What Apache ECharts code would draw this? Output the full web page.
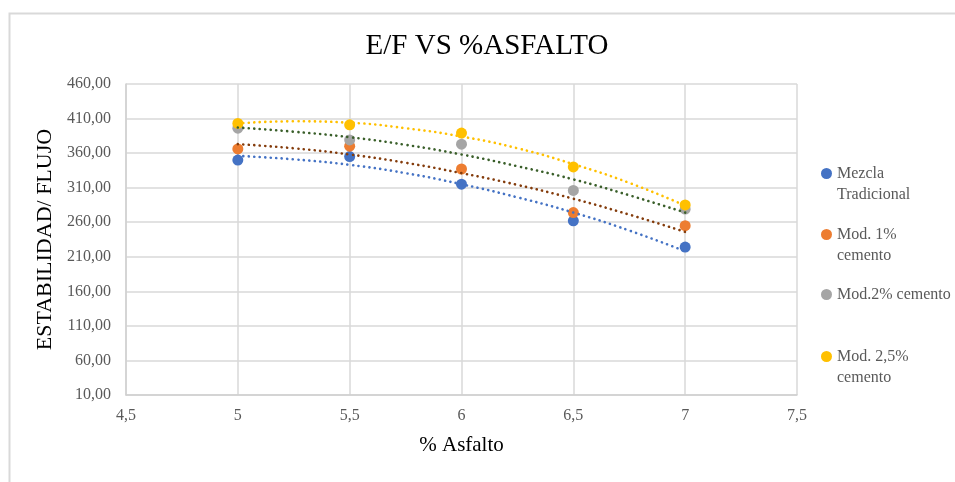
<!DOCTYPE html>
<html>
<head>
<meta charset="utf-8">
<script src="https://cdn.jsdelivr.net/npm/echarts@6/dist/echarts.min.js"></script>
<style>html,body{margin:0;padding:0;background:#fff;}#chart{width:955px;height:482px;}</style>
</head>
<body>
<div id="chart"></div>
<script>
// ---- data ----
const titleText = 'E/F VS %ASFALTO';
const xName = '% Asfalto';
const yName = 'ESTABILIDAD/ FLUJO';
const xValues = [5, 5.5, 6, 6.5, 7];
const seriesNames = ['Mezcla Tradicional', 'Mod. 1% cemento', 'Mod.2% cemento', 'Mod. 2,5% cemento'];
const legendLabels = ['\nMezcla\nTradicional', '\nMod. 1%\ncemento', 'Mod.2% cemento', '\nMod. 2,5%\ncemento'];
const mezcla = [350, 355, 315, 262, 224];
const mod1 = [366, 370, 337, 274, 255];
const mod2 = [396, 379, 373, 306, 279];
const mod25 = [403, 401, 389, 340, 285];
// polynomial trend lines
const trendX = [5, 5.25, 5.5, 5.75, 6, 6.25, 6.5, 6.75, 7];
const trendMezcla = [356, 351, 343, 331, 315, 296, 274, 248, 218];
const trendMod1 = [373, 367, 358, 346, 331, 314, 294, 271, 246];
const trendMod2 = [397, 391, 383, 372, 358, 341, 322, 299, 274];
const trendMod25 = [403, 406, 404, 396, 384, 367, 344, 317, 284];

const markerColors = ['#4472C4', '#ED7D31', '#A5A5A5', '#FFC000'];
const trendColors = ['#4472C4', '#843C0C', '#3A5F2A', '#FFC000'];
const values = [mezcla, mod1, mod2, mod25];
const trends = [trendMezcla, trendMod1, trendMod2, trendMod25];

const font = '"Liberation Serif", "Times New Roman", serif';
const chart = echarts.init(document.getElementById('chart'));

const series = [];
values.forEach((vals, i) => {
  series.push({
    name: seriesNames[i],
    type: 'scatter',
    symbol: 'circle',
    symbolSize: 11,
    itemStyle: { color: markerColors[i], opacity: 1 },
    data: xValues.map((x, j) => [x, vals[j]]),
    z: 2 + i
  });
});
trends.forEach((vals, i) => {
  series.push({
    name: 'trend' + i,
    type: 'line',
    smooth: true,
    showSymbol: false,
    symbol: 'none',
    silent: true,
    lineStyle: { color: trendColors[i], width: 2.6, type: [0.1, 5.4], cap: 'round' },
    data: trendX.map((x, j) => [x, vals[j]]),
    z: 10
  });
});

const legendTops = [142, 203, 284, 325];
const legends = seriesNames.map((n, i) => ({
  data: [n],
  left: 821,
  top: legendTops[i],
  orient: 'vertical',
  padding: 0,
  icon: 'circle',
  itemWidth: 11,
  itemHeight: 11,
  selectedMode: false,
  formatter: () => legendLabels[i],
  textStyle: { fontFamily: font, fontSize: 16, color: '#595959', lineHeight: 21 }
}));

chart.setOption({
  animation: false,
  backgroundColor: '#fff',
  title: {
    text: titleText,
    left: 487,
    textAlign: 'center',
    top: 32,
    padding: 0,
    textStyle: { fontFamily: font, fontSize: 29, fontWeight: 'normal', color: '#000' }
  },
  graphic: [{
    type: 'rect',
    shape: { x: 9.5, y: 13.5, width: 1000, height: 1000 },
    style: { fill: 'none', stroke: '#d9d9d9', lineWidth: 2 },
    silent: true,
    z: -1
  }],
  legend: legends,
  grid: { left: 126, right: 158, top: 84, bottom: 87, outerBoundsMode: 'none' },
  xAxis: {
    type: 'value',
    min: 4.5, max: 7.5, interval: 0.5,
    name: xName,
    nameLocation: 'middle',
    nameGap: 40,
    nameTextStyle: { fontFamily: font, fontSize: 21, color: '#000' },
    axisLine: { show: true, lineStyle: { color: '#d0d0d0', width: 1.5 } },
    axisTick: { show: false },
    axisLabel: {
      margin: 13, fontFamily: font, fontSize: 16, color: '#595959',
      formatter: v => String(v).replace('.', ',')
    },
    splitLine: { show: true, lineStyle: { color: '#d9d9d9', width: 1.5 } }
  },
  yAxis: {
    type: 'value',
    min: 10, max: 460, interval: 50,
    name: yName,
    nameLocation: 'middle',
    nameGap: 69,
    nameTextStyle: { fontFamily: font, fontSize: 22, color: '#000' },
    axisLine: { show: true, lineStyle: { color: '#d0d0d0', width: 1.5 } },
    axisTick: { show: false },
    axisLabel: {
      margin: 15, fontFamily: font, fontSize: 16, color: '#595959',
      formatter: v => v.toFixed(2).replace('.', ',')
    },
    splitLine: { show: true, lineStyle: { color: '#d9d9d9', width: 1.5 } }
  },
  series: series
});
</script>
</body>
</html>
